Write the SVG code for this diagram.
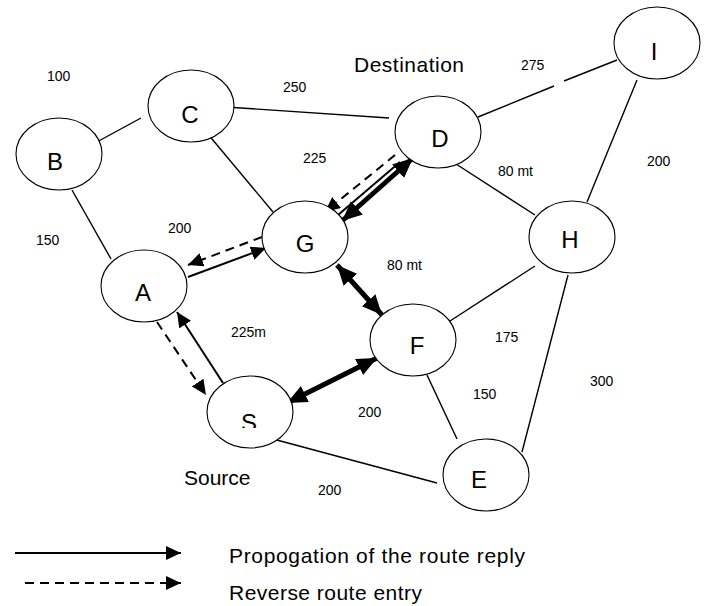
<svg xmlns="http://www.w3.org/2000/svg" width="709" height="606" viewBox="0 0 709 606">
<style>
.node ellipse{fill:#fff;stroke:#000;stroke-width:1.1}
.lbl{font-family:"Liberation Sans",Arial,sans-serif;font-size:24px;fill:#000;text-anchor:middle}
.w{font-family:"Liberation Sans",Arial,sans-serif;font-size:14px;fill:#000}
.big{font-family:"Liberation Sans",Arial,sans-serif;font-size:21px;fill:#000}
.e{stroke:#000;stroke-width:1.4;fill:none}
.a{stroke:#000;stroke-width:2;fill:none}
.d{stroke:#000;stroke-width:2;fill:none;stroke-dasharray:9 6}
.t{stroke:#000;stroke-width:5;fill:none}
</style>
<defs>
<marker id="ah" markerUnits="userSpaceOnUse" markerWidth="16" markerHeight="14" refX="15" refY="7" orient="auto"><path d="M0,0 L15,7 L0,14 z" fill="#000"/></marker>
<marker id="th" markerUnits="userSpaceOnUse" markerWidth="21" markerHeight="18" refX="20" refY="9" orient="auto-start-reverse"><path d="M0,0 L20,9 L0,18 z" fill="#000"/></marker>
<clipPath id="sclip"><rect x="200" y="395" width="100" height="33"/></clipPath>
</defs>

<g id="connectors">
<line class="e" x1="95" y1="143" x2="141" y2="118"/>
<line class="e" x1="72" y1="190" x2="111" y2="259"/>
<line class="e" x1="226" y1="107" x2="389" y2="118"/>
<line class="e" x1="207" y1="133" x2="273" y2="212"/>
<line class="e" x1="478" y1="117" x2="554" y2="86"/>
<line class="e" x1="564" y1="81" x2="617" y2="60"/>
<line class="e" x1="456" y1="164" x2="535" y2="215"/>
<line class="e" x1="637" y1="80" x2="587" y2="202"/>
<line class="e" x1="535" y1="266" x2="450" y2="321"/>
<line class="e" x1="568" y1="275" x2="522" y2="452"/>
<line class="e" x1="427" y1="375" x2="457" y2="439"/>
<line class="e" x1="273" y1="439" x2="437" y2="483"/>

<line class="a" x1="188" y1="277" x2="266" y2="248" marker-end="url(#ah)"/>
<line class="d" x1="262" y1="237" x2="188" y2="265" marker-end="url(#ah)"/>
<line class="a" x1="223" y1="383" x2="177" y2="312" marker-end="url(#ah)"/>
<line class="d" x1="157" y1="322" x2="206" y2="395" marker-end="url(#ah)"/>
<line class="d" x1="395" y1="155" x2="325" y2="212" marker-end="url(#ah)"/>
<line class="a" x1="338" y1="215" x2="400" y2="162"/>
<line class="t" x1="342" y1="221" x2="413" y2="158" marker-start="url(#th)" marker-end="url(#th)"/>
<line class="t" x1="337" y1="265" x2="382" y2="315" marker-start="url(#th)" marker-end="url(#th)"/>
<line class="t" x1="377" y1="358" x2="287" y2="403" marker-start="url(#th)" marker-end="url(#th)"/>
</g>

<g id="node-B" class="node"><ellipse cx="59" cy="154" rx="43" ry="36"/><text class="lbl" x="55" y="170">B</text></g>
<g id="node-C" class="node"><ellipse cx="191" cy="106" rx="43" ry="36"/><text class="lbl" x="190" y="123">C</text></g>
<g id="node-G" class="node"><ellipse cx="305" cy="237" rx="43" ry="36"/><text class="lbl" x="305" y="252">G</text></g>
<g id="node-A" class="node"><ellipse cx="144" cy="286" rx="43" ry="36"/><text class="lbl" x="143" y="301">A</text></g>
<g id="node-D" class="node"><ellipse cx="438" cy="132" rx="43" ry="36"/><text class="lbl" x="440" y="147">D</text></g>
<g id="node-I" class="node"><ellipse cx="657" cy="43" rx="43" ry="36"/><text class="lbl" x="654" y="60">I</text></g>
<g id="node-H" class="node"><ellipse cx="572" cy="237" rx="43" ry="36"/><text class="lbl" x="570" y="248">H</text></g>
<g id="node-F" class="node"><ellipse cx="413" cy="340" rx="43" ry="36"/><text class="lbl" x="417" y="354">F</text></g>
<g id="node-E" class="node"><ellipse cx="486" cy="475" rx="43" ry="36"/><text class="lbl" x="479" y="488">E</text></g>
<g id="node-S" class="node"><ellipse cx="250" cy="412" rx="43" ry="36"/><text class="lbl" x="249" y="431" clip-path="url(#sclip)">S</text></g>

<g id="labels">
<text class="w" x="47" y="81">100</text>
<text class="w" x="283" y="92">250</text>
<text class="w" x="303" y="163">225</text>
<text class="w" x="168" y="233">200</text>
<text class="w" x="36" y="245">150</text>
<text class="big" x="354" y="72" textLength="110">Destination</text>
<text class="w" x="521" y="70">275</text>
<text class="w" x="647" y="166">200</text>
<text class="w" x="498" y="176">80 mt</text>
<text class="w" x="387" y="270">80 mt</text>
<text class="w" x="495" y="342">175</text>
<text class="w" x="473" y="399">150</text>
<text class="w" x="590" y="386">300</text>
<text class="w" x="358" y="417">200</text>
<text class="w" x="231" y="337">225m</text>
<text class="big" x="184" y="485">Source</text>
<text class="w" x="318" y="495">200</text>
</g>

<g id="legend">
<line class="a" x1="15" y1="553" x2="181" y2="553" marker-end="url(#ah)"/>
<line class="d" x1="25" y1="583" x2="181" y2="583" marker-end="url(#ah)"/>
<text class="big" x="229" y="563" textLength="296">Propogation of the route reply</text>
<text class="big" x="229" y="600" textLength="193">Reverse route entry</text>
</g>
</svg>
